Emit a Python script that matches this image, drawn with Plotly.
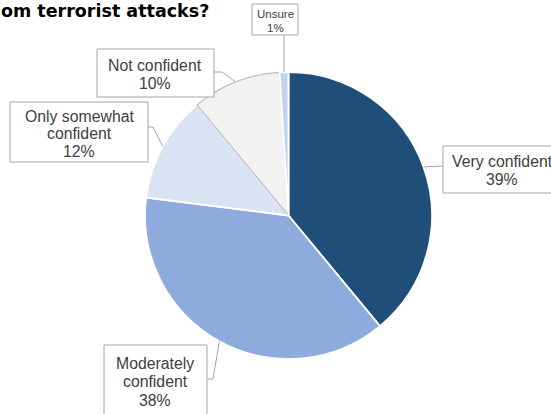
import math
import plotly.graph_objects as go

# ---- data ----
labels = ["Very confident", "Moderately confident", "Only somewhat confident", "Not confident", "Unsure"]
values = [39, 38, 12, 10, 1]
label_lines = [["Very confident"], ["Moderately", "confident"], ["Only somewhat", "confident"], ["Not confident"], ["Unsure"]]
colors = ["#1F4E79", "#8FAADC", "#DAE3F3", "#F2F2F2", "#C3D3EE"]
border_colors = ["white", "white", "white", "#BFBFBF", "white"]
title_text = "om terrorist attacks?"

W, H = 551, 414
CX, CY, R = 288.5, 215.5, 143.5

def px(x):
    return x / W

def py(y):
    return 1 - y / H

fig = go.Figure()
fig.add_trace(go.Pie(
    labels=labels, values=values, sort=False, direction="clockwise", rotation=0,
    marker=dict(colors=colors, line=dict(color=border_colors, width=[1.8, 1.8, 1.8, 1.2, 1.8])),
    textinfo="none", hoverinfo="label+percent", showlegend=False,
    domain=dict(x=[px(CX - R), px(CX + R)], y=[py(CY + R), py(CY - R)]),
))

# label box layout (pixels): box x0, y0, x1, y1, first line centre y, line step, font size, elbow points
boxes = [
    dict(box=(443, 146, 561, 193), y0=162, step=18, size=15.8, path=[(443, 166)]),
    dict(box=(104, 345, 207, 430), y0=363, step=18.5, size=15.8, path=[(207, 379), (213, 379)]),
    dict(box=(10, 102, 148, 162), y0=116, step=17.5, size=15.8, path=[(148, 127), (153, 127)]),
    dict(box=(97, 49, 214, 97), y0=65, step=18, size=15.8, path=[(214, 72), (222, 72)]),
    dict(box=(252, 4, 298, 35), y0=14, step=14, size=11.5, path=None),
]

shapes = []
annotations = []
cum = 0
total = sum(values)
for i, (lab, v) in enumerate(zip(labels, values)):
    mid = (cum + v / 2) / total * 2 * math.pi
    cum += v
    ex = CX + R * math.sin(mid)
    ey = CY - R * math.cos(mid)
    b = boxes[i]
    x0, y0, x1, y1 = b["box"]
    pts = b["path"] if b["path"] else [(ex, y1)]
    pts = pts + [(ex, ey)]
    d = "M " + " L ".join(f"{px(x)},{py(y)}" for x, y in pts)
    shapes.append(dict(type="path", path=d, xref="paper", yref="paper",
                       line=dict(color="#A6A6A6", width=1), layer="above"))
    shapes.append(dict(type="rect", xref="paper", yref="paper",
                       x0=px(x0), x1=px(x1), y0=py(y1), y1=py(y0),
                       fillcolor="white", line=dict(color="#A6A6A6", width=1), layer="above"))
    lines = label_lines[i] + [f"{v}%"]
    for k, t in enumerate(lines):
        annotations.append(dict(
            text=t, x=px((x0 + x1) / 2), y=py(b["y0"] + k * b["step"]),
            xref="paper", yref="paper", xanchor="center", yanchor="middle",
            showarrow=False, font=dict(family="Liberation Sans, Arial, sans-serif", size=b["size"], color="#404040"),
        ))

annotations.append(dict(
    text=f"<b>{title_text}</b>", x=px(211), y=py(11), xref="paper", yref="paper",
    xanchor="right", yanchor="middle", showarrow=False,
    font=dict(family="DejaVu Sans, sans-serif", size=17.5, color="black"),
))

fig.update_layout(
    width=W, height=H, margin=dict(l=0, r=0, t=0, b=0),
    paper_bgcolor="white", plot_bgcolor="white",
    shapes=shapes, annotations=annotations,
)

fig.write_html("out.html", config={"displayModeBar": False},
               post_script="document.body.style.margin='0';document.body.style.overflow='hidden';")
